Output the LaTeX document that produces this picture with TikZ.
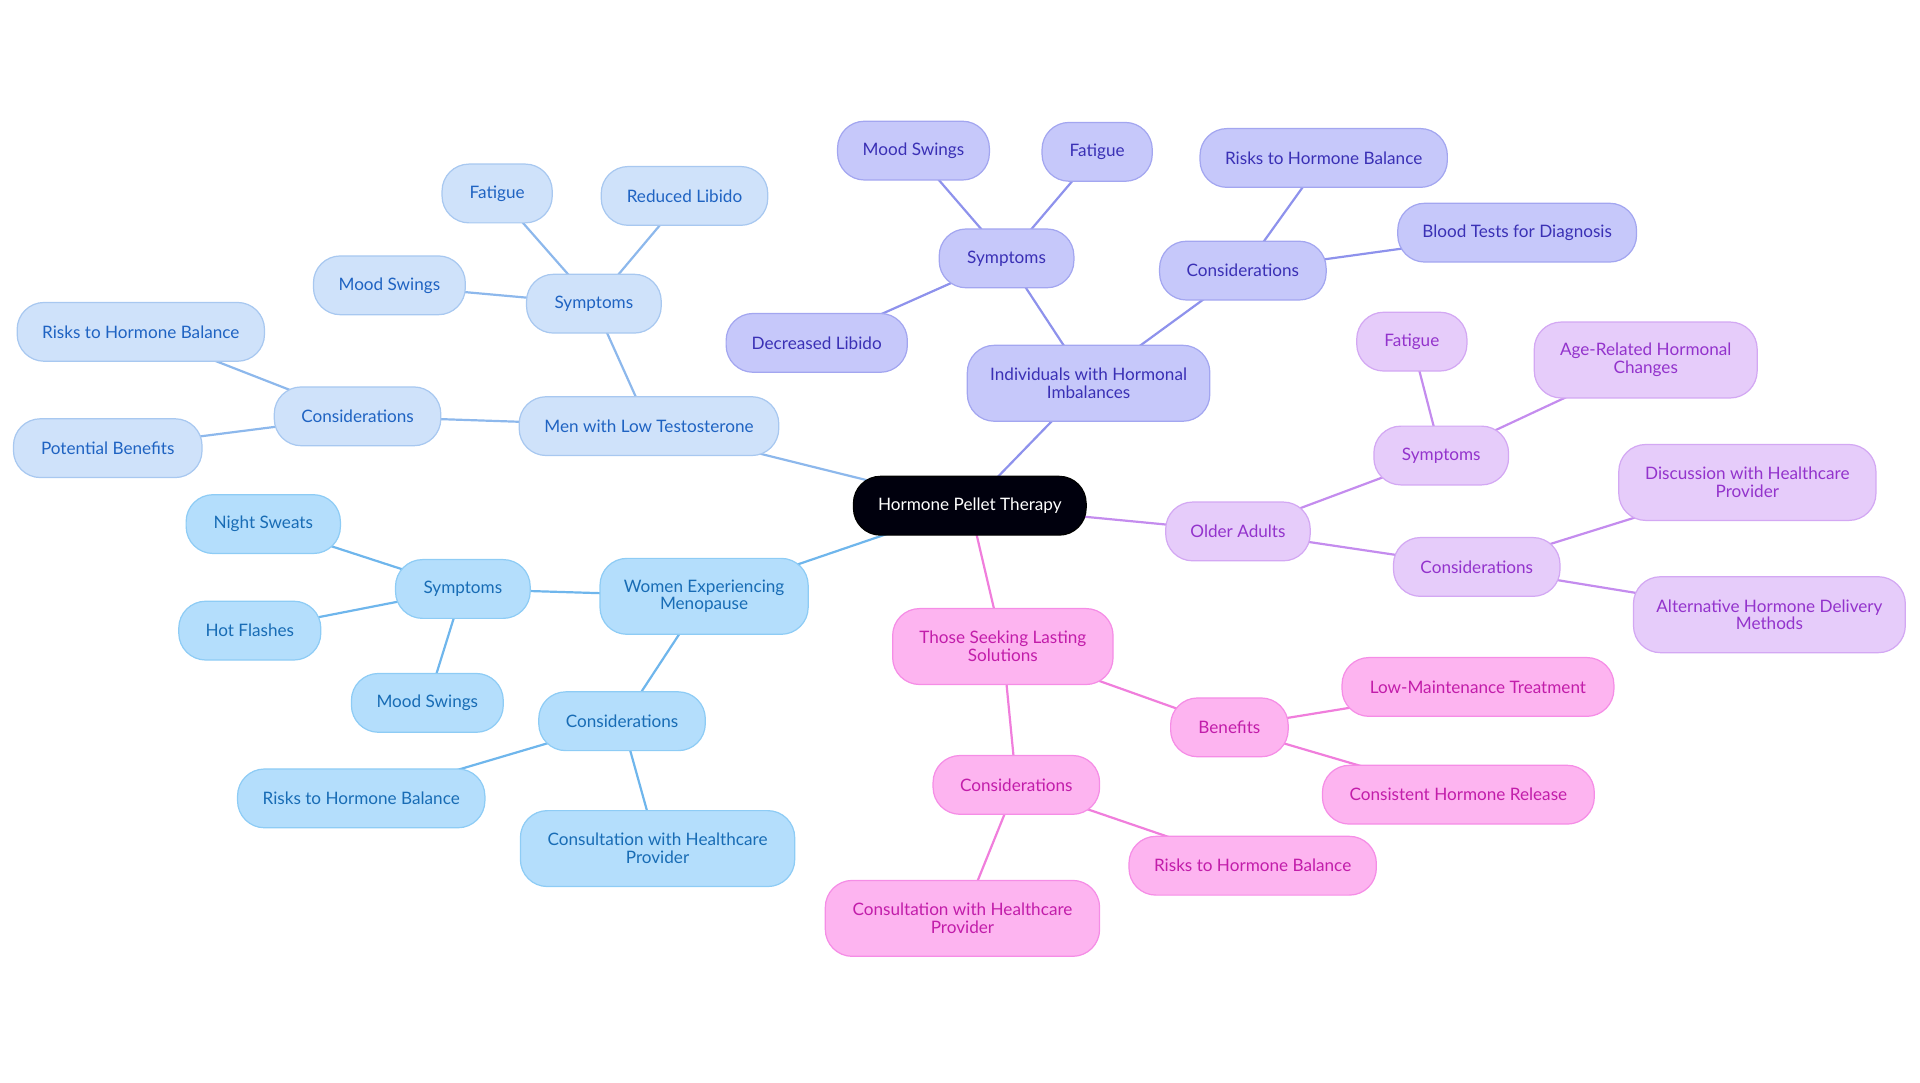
\documentclass[tikz,border=0pt]{standalone}
\usepackage{fontspec}
\setmainfont{Lato}
\usetikzlibrary{backgrounds}
\definecolor{mF}{HTML}{CFE2FA}\definecolor{mD}{HTML}{A8C8F0}\definecolor{mT}{HTML}{1F63C2}\definecolor{mE}{HTML}{8DB8EC}
\definecolor{wF}{HTML}{B4DEFC}\definecolor{wD}{HTML}{8ECCF5}\definecolor{wT}{HTML}{186CB5}\definecolor{wE}{HTML}{6FB6EC}
\definecolor{iF}{HTML}{C6C8FA}\definecolor{iD}{HTML}{A3A6F0}\definecolor{iT}{HTML}{3A30B5}\definecolor{iE}{HTML}{8E92EC}
\definecolor{oF}{HTML}{E6CCFA}\definecolor{oD}{HTML}{D3A8F3}\definecolor{oT}{HTML}{9333CC}\definecolor{oE}{HTML}{C48CEE}
\definecolor{lF}{HTML}{FDB4F0}\definecolor{lD}{HTML}{F58DE6}\definecolor{lT}{HTML}{C21DAA}\definecolor{lE}{HTML}{F07EDC}
\tikzset{
 bx/.style={rounded corners=22pt,minimum height=48pt,align=center,font=\fontsize{14}{14.5}\selectfont,line width=1pt,inner sep=0pt},
 tb/.style={minimum height=62pt},
 mb/.style={bx,fill=mF,draw=mD,text=mT},
 wb/.style={bx,fill=wF,draw=wD,text=wT},
 ib/.style={bx,fill=iF,draw=iD,text=iT},
 ob/.style={bx,fill=oF,draw=oD,text=oT},
 lbx/.style={bx,fill=lF,draw=lD,text=lT},
 me/.style={draw=mE,line width=1.8pt},
 we/.style={draw=wE,line width=1.8pt},
 ie/.style={draw=iE,line width=1.8pt},
 oe/.style={draw=oE,line width=1.8pt},
 le/.style={draw=lE,line width=1.8pt},
}
\begin{document}
\begin{tikzpicture}[x=1pt,y=-1pt]
\useasboundingbox (0,0) rectangle (1568,884);
\node[bx,fill=black!95!blue,draw=black,text=white,minimum width=190pt] (r) at (792,413) {Hormone Pellet Therapy};
% men
\node[mb,minimum width=212pt] (m) at (530,348) {Men with Low Testosterone};
\node[mb,minimum width=110pt] (ms) at (485,248) {Symptoms};
\node[mb,minimum width=90pt] (ms1) at (406,158) {Fatigue};
\node[mb,minimum width=136pt] (ms2) at (559,160) {Reduced Libido};
\node[mb,minimum width=124pt] (ms3) at (318,233) {Mood Swings};
\node[mb,minimum width=136pt] (mc) at (292,340) {Considerations};
\node[mb,minimum width=202pt] (mc1) at (115,271) {Risks to Hormone Balance};
\node[mb,minimum width=154pt] (mc2) at (88,366) {Potential Benefits};
% women
\node[wb,tb,minimum width=170pt] (w) at (575,487) {Women Experiencing\\Menopause};
\node[wb,minimum width=110pt] (ws) at (378,481) {Symptoms};
\node[wb,minimum width=126pt] (ws1) at (215,428) {Night Sweats};
\node[wb,minimum width=116pt] (ws2) at (204,515) {Hot Flashes};
\node[wb,minimum width=124pt] (ws3) at (349,574) {Mood Swings};
\node[wb,minimum width=136pt] (wc) at (508,589) {Considerations};
\node[wb,minimum width=202pt] (wc1) at (295,652) {Risks to Hormone Balance};
\node[wb,tb,minimum width=224pt] (wc2) at (537,693) {Consultation with Healthcare\\Provider};
% individuals
\node[ib,tb,minimum width=198pt] (i) at (889,313) {Individuals with Hormonal\\Imbalances};
\node[ib,minimum width=110pt] (is) at (822,211) {Symptoms};
\node[ib,minimum width=124pt] (is1) at (746,123) {Mood Swings};
\node[ib,minimum width=90pt] (is2) at (896,124) {Fatigue};
\node[ib,minimum width=148pt] (is3) at (667,280) {Decreased Libido};
\node[ib,minimum width=136pt] (ic) at (1015,221) {Considerations};
\node[ib,minimum width=202pt] (ic1) at (1081,129) {Risks to Hormone Balance};
\node[ib,minimum width=195pt] (ic2) at (1239,190) {Blood Tests for Diagnosis};
% older
\node[ob,minimum width=118pt] (o) at (1011,434) {Older Adults};
\node[ob,minimum width=110pt] (os) at (1177,372) {Symptoms};
\node[ob,minimum width=90pt] (os1) at (1153,279) {Fatigue};
\node[ob,tb,minimum width=182pt] (os2) at (1344,294) {Age-Related Hormonal\\Changes};
\node[ob,minimum width=136pt] (oc) at (1206,463) {Considerations};
\node[ob,tb,minimum width=210pt] (oc1) at (1427,394) {Discussion with Healthcare\\Provider};
\node[ob,tb,minimum width=222pt] (oc2) at (1445,502) {Alternative Hormone Delivery\\Methods};
% lasting
\node[lbx,tb,minimum width=180pt] (l) at (819,528) {Those Seeking Lasting\\Solutions};
\node[lbx,minimum width=96pt] (lb) at (1004,594) {Benefits};
\node[lbx,minimum width=222pt] (lb1) at (1207,561) {Low-Maintenance Treatment};
\node[lbx,minimum width=222pt] (lb2) at (1191,649) {Consistent Hormone Release};
\node[lbx,minimum width=136pt] (lc) at (830,641) {Considerations};
\node[lbx,minimum width=202pt] (lc1) at (1023,707) {Risks to Hormone Balance};
\node[lbx,tb,minimum width=224pt] (lc2) at (786,750) {Consultation with Healthcare\\Provider};
\begin{scope}[on background layer]
\draw[me] (r.center)--(m.center) (m.center)--(ms.center) (ms.center)--(ms1.center) (ms.center)--(ms2.center) (ms.center)--(ms3.center) (m.center)--(mc.center) (mc.center)--(mc1.center) (mc.center)--(mc2.center);
\draw[we] (r.center)--(w.center) (w.center)--(ws.center) (ws.center)--(ws1.center) (ws.center)--(ws2.center) (ws.center)--(ws3.center) (w.center)--(wc.center) (wc.center)--(wc1.center) (wc.center)--(wc2.center);
\draw[ie] (r.center)--(i.center) (i.center)--(is.center) (is.center)--(is1.center) (is.center)--(is2.center) (is.center)--(is3.center) (i.center)--(ic.center) (ic.center)--(ic1.center) (ic.center)--(ic2.center);
\draw[oe] (r.center)--(o.center) (o.center)--(os.center) (os.center)--(os1.center) (os.center)--(os2.center) (o.center)--(oc.center) (oc.center)--(oc1.center) (oc.center)--(oc2.center);
\draw[le] (r.center)--(l.center) (l.center)--(lb.center) (lb.center)--(lb1.center) (lb.center)--(lb2.center) (l.center)--(lc.center) (lc.center)--(lc1.center) (lc.center)--(lc2.center);
\end{scope}
\end{tikzpicture}
\end{document}
